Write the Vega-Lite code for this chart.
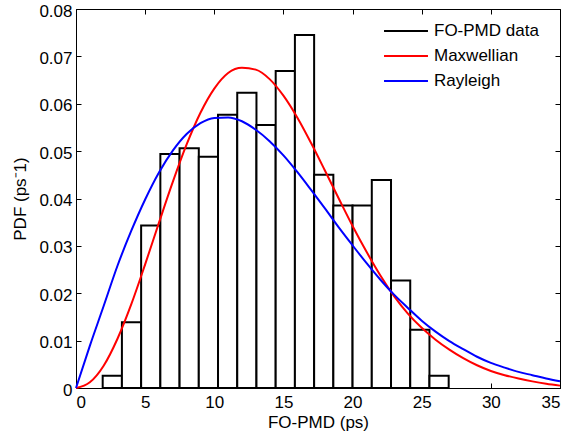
{
  "$schema": "https://vega.github.io/schema/vega-lite/v6.json",
  "width": 484,
  "height": 379,
  "autosize": "none",
  "padding": {"left": 76, "top": 9, "right": 8, "bottom": 51},
  "background": "white",
  "config": {
    "font": "Liberation Sans",
    "view": {"stroke": "black", "strokeWidth": 1},
    "axis": {
      "grid": false,
      "domainColor": "black",
      "tickColor": "black",
      "labelColor": "black",
      "titleColor": "black",
      "labelFont": "Liberation Sans",
      "titleFont": "Liberation Sans",
      "labelFontSize": 17,
      "titleFontSize": 17,
      "titleFontWeight": "normal",
      "tickSize": -5
    },
    "legend": {
      "labelFont": "Liberation Sans",
      "labelFontSize": 17,
      "labelColor": "black"
    }
  },
  "datasets": {
    "bars": [
      {"x0": 1.93, "x1": 3.32, "pdf": 0.0026, "series": "FO-PMD data"},
      {"x0": 3.32, "x1": 4.71, "pdf": 0.0139, "series": "FO-PMD data"},
      {"x0": 4.71, "x1": 6.10, "pdf": 0.0343, "series": "FO-PMD data"},
      {"x0": 6.10, "x1": 7.49, "pdf": 0.0494, "series": "FO-PMD data"},
      {"x0": 7.49, "x1": 8.88, "pdf": 0.0506, "series": "FO-PMD data"},
      {"x0": 8.88, "x1": 10.27, "pdf": 0.0488, "series": "FO-PMD data"},
      {"x0": 10.27, "x1": 11.66, "pdf": 0.0577, "series": "FO-PMD data"},
      {"x0": 11.66, "x1": 13.05, "pdf": 0.0623, "series": "FO-PMD data"},
      {"x0": 13.05, "x1": 14.44, "pdf": 0.0555, "series": "FO-PMD data"},
      {"x0": 14.44, "x1": 15.83, "pdf": 0.0669, "series": "FO-PMD data"},
      {"x0": 15.83, "x1": 17.22, "pdf": 0.0745, "series": "FO-PMD data"},
      {"x0": 17.22, "x1": 18.61, "pdf": 0.0450, "series": "FO-PMD data"},
      {"x0": 18.61, "x1": 20.00, "pdf": 0.0385, "series": "FO-PMD data"},
      {"x0": 20.00, "x1": 21.39, "pdf": 0.0385, "series": "FO-PMD data"},
      {"x0": 21.39, "x1": 22.78, "pdf": 0.0439, "series": "FO-PMD data"},
      {"x0": 22.78, "x1": 24.17, "pdf": 0.0227, "series": "FO-PMD data"},
      {"x0": 24.17, "x1": 25.56, "pdf": 0.0123, "series": "FO-PMD data"},
      {"x0": 25.56, "x1": 26.95, "pdf": 0.0026, "series": "FO-PMD data"}
    ],
    "curves": [
      {"x": 0, "y": 0, "series": "Maxwellian"},
      {"x": 1, "y": 0.0012, "series": "Maxwellian"},
      {"x": 2, "y": 0.0047, "series": "Maxwellian"},
      {"x": 3, "y": 0.0104, "series": "Maxwellian"},
      {"x": 4, "y": 0.0177, "series": "Maxwellian"},
      {"x": 5, "y": 0.0261, "series": "Maxwellian"},
      {"x": 6, "y": 0.0349, "series": "Maxwellian"},
      {"x": 7, "y": 0.0435, "series": "Maxwellian"},
      {"x": 8, "y": 0.0514, "series": "Maxwellian"},
      {"x": 9, "y": 0.0581, "series": "Maxwellian"},
      {"x": 10, "y": 0.0632, "series": "Maxwellian"},
      {"x": 11, "y": 0.0665, "series": "Maxwellian"},
      {"x": 12, "y": 0.0676, "series": "Maxwellian"},
      {"x": 13, "y": 0.0672, "series": "Maxwellian"},
      {"x": 14, "y": 0.0652, "series": "Maxwellian"},
      {"x": 15, "y": 0.0617, "series": "Maxwellian"},
      {"x": 16, "y": 0.0571, "series": "Maxwellian"},
      {"x": 17, "y": 0.0517, "series": "Maxwellian"},
      {"x": 18, "y": 0.0459, "series": "Maxwellian"},
      {"x": 19, "y": 0.0400, "series": "Maxwellian"},
      {"x": 20, "y": 0.0342, "series": "Maxwellian"},
      {"x": 21, "y": 0.0288, "series": "Maxwellian"},
      {"x": 22, "y": 0.0238, "series": "Maxwellian"},
      {"x": 23, "y": 0.0194, "series": "Maxwellian"},
      {"x": 24, "y": 0.0157, "series": "Maxwellian"},
      {"x": 25, "y": 0.0127, "series": "Maxwellian"},
      {"x": 26, "y": 0.0102, "series": "Maxwellian"},
      {"x": 27, "y": 0.0081, "series": "Maxwellian"},
      {"x": 28, "y": 0.0063, "series": "Maxwellian"},
      {"x": 29, "y": 0.0048, "series": "Maxwellian"},
      {"x": 30, "y": 0.0036, "series": "Maxwellian"},
      {"x": 31, "y": 0.0027, "series": "Maxwellian"},
      {"x": 32, "y": 0.0020, "series": "Maxwellian"},
      {"x": 33, "y": 0.0014, "series": "Maxwellian"},
      {"x": 34, "y": 0.0009, "series": "Maxwellian"},
      {"x": 35, "y": 0.0005, "series": "Maxwellian"},
      {"x": 0, "y": 0, "series": "Rayleigh"},
      {"x": 1, "y": 0.0089, "series": "Rayleigh"},
      {"x": 2, "y": 0.0173, "series": "Rayleigh"},
      {"x": 3, "y": 0.0258, "series": "Rayleigh"},
      {"x": 4, "y": 0.0332, "series": "Rayleigh"},
      {"x": 5, "y": 0.0398, "series": "Rayleigh"},
      {"x": 6, "y": 0.0455, "series": "Rayleigh"},
      {"x": 7, "y": 0.0501, "series": "Rayleigh"},
      {"x": 8, "y": 0.0536, "series": "Rayleigh"},
      {"x": 9, "y": 0.0559, "series": "Rayleigh"},
      {"x": 10, "y": 0.0570, "series": "Rayleigh"},
      {"x": 11, "y": 0.0571, "series": "Rayleigh"},
      {"x": 12, "y": 0.0563, "series": "Rayleigh"},
      {"x": 13, "y": 0.0545, "series": "Rayleigh"},
      {"x": 14, "y": 0.0521, "series": "Rayleigh"},
      {"x": 15, "y": 0.0491, "series": "Rayleigh"},
      {"x": 16, "y": 0.0456, "series": "Rayleigh"},
      {"x": 17, "y": 0.0418, "series": "Rayleigh"},
      {"x": 18, "y": 0.0379, "series": "Rayleigh"},
      {"x": 19, "y": 0.0339, "series": "Rayleigh"},
      {"x": 20, "y": 0.0301, "series": "Rayleigh"},
      {"x": 21, "y": 0.0264, "series": "Rayleigh"},
      {"x": 22, "y": 0.0229, "series": "Rayleigh"},
      {"x": 23, "y": 0.0197, "series": "Rayleigh"},
      {"x": 24, "y": 0.0169, "series": "Rayleigh"},
      {"x": 25, "y": 0.0142, "series": "Rayleigh"},
      {"x": 26, "y": 0.0119, "series": "Rayleigh"},
      {"x": 27, "y": 0.0099, "series": "Rayleigh"},
      {"x": 28, "y": 0.0082, "series": "Rayleigh"},
      {"x": 29, "y": 0.0066, "series": "Rayleigh"},
      {"x": 30, "y": 0.0053, "series": "Rayleigh"},
      {"x": 31, "y": 0.0043, "series": "Rayleigh"},
      {"x": 32, "y": 0.0034, "series": "Rayleigh"},
      {"x": 33, "y": 0.0027, "series": "Rayleigh"},
      {"x": 34, "y": 0.0020, "series": "Rayleigh"},
      {"x": 35, "y": 0.0014, "series": "Rayleigh"}
    ]
  },
  "resolve": {"axis": {"x": "independent", "y": "independent"}},
  "layer": [
    {
      "data": {"name": "bars"},
      "mark": {"type": "rect", "fill": "white", "strokeWidth": 2},
      "encoding": {
        "x": {
          "field": "x0", "type": "quantitative",
          "scale": {"domain": [0, 35], "nice": false, "zero": false},
          "axis": {"orient": "bottom", "values": [0, 5, 10, 15, 20, 25, 30, 35], "title": "FO-PMD (ps)", "titlePadding": 4, "labelPadding": 11}
        },
        "x2": {"field": "x1"},
        "y": {
          "field": "pdf", "type": "quantitative",
          "scale": {"domain": [0, 0.08], "nice": false},
          "axis": {"orient": "left", "values": [0, 0.01, 0.02, 0.03, 0.04, 0.05, 0.06, 0.07, 0.08], "format": ".2~f", "title": "PDF (ps⁻1)", "titlePadding": 9, "labelPadding": 9, "labelOffset": 2}
        },
        "y2": {"datum": 0},
        "stroke": {
          "field": "series", "type": "nominal",
          "scale": {"domain": ["FO-PMD data", "Maxwellian", "Rayleigh"], "range": ["black", "#ff0000", "#0000ff"]},
          "legend": {
            "title": null,
            "orient": "none",
            "legendX": 313,
            "legendY": 5,
            "symbolType": "M-1.39,0H1.39",
            "symbolSize": 1000,
            "symbolStrokeWidth": 2,
            "symbolFillColor": "transparent",
            "rowPadding": 0,
            "labelOffset": 11
          }
        }
      }
    },
    {
      "data": {"name": "curves"},
      "mark": {"type": "line", "strokeWidth": 2, "interpolate": "monotone"},
      "encoding": {
        "x": {
          "field": "x", "type": "quantitative",
          "scale": {"domain": [0, 35], "nice": false, "zero": false},
          "axis": {"orient": "top", "values": [0, 5, 10, 15, 20, 25, 30, 35], "labels": false, "title": null, "domain": false}
        },
        "y": {
          "field": "y", "type": "quantitative",
          "scale": {"domain": [0, 0.08], "nice": false},
          "axis": {"orient": "right", "values": [0, 0.01, 0.02, 0.03, 0.04, 0.05, 0.06, 0.07, 0.08], "labels": false, "title": null, "domain": false}
        },
        "stroke": {"field": "series", "type": "nominal"}
      }
    }
  ]
}
